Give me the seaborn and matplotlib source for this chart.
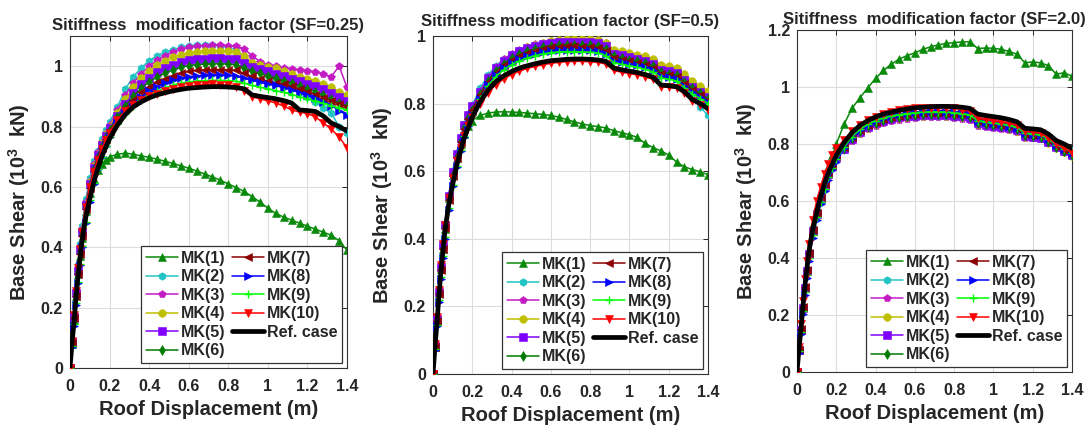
import matplotlib
matplotlib.use("Agg")
import matplotlib.pyplot as plt
import seaborn as sns

# ---------------------------------------------------------------------------
# Pushover data: roof displacement (m) vs base shear (10^3 kN)
# ---------------------------------------------------------------------------
DISP = [0, 0.01, 0.02, 0.03, 0.04, 0.05, 0.06, 0.08, 0.10, 0.12, 0.14, 0.16, 0.18, 0.20,
        0.24, 0.28, 0.32, 0.36, 0.40, 0.44, 0.48, 0.52, 0.56, 0.60,
        0.64, 0.68, 0.72, 0.76, 0.80, 0.84, 0.88, 0.92, 0.96, 1.00,
        1.04, 1.08, 1.12, 1.16, 1.20, 1.24, 1.28, 1.32, 1.36, 1.40]

REF_CASE = [0, 0.08, 0.15, 0.23, 0.30, 0.36, 0.42, 0.50, 0.56, 0.615, 0.66, 0.70, 0.73, 0.76,
            0.805, 0.84, 0.865, 0.882, 0.895, 0.905, 0.912, 0.918, 0.923, 0.927,
            0.929, 0.931, 0.932, 0.932, 0.931, 0.929, 0.925, 0.905, 0.900, 0.896,
            0.892, 0.886, 0.878, 0.855, 0.853, 0.850, 0.835, 0.812, 0.800, 0.785]

# SF = 0.25
SF025_MK1 = [0, 0.08, 0.16, 0.24, 0.31, 0.37, 0.43, 0.52, 0.58, 0.625, 0.655, 0.675, 0.69, 0.70,
             0.708, 0.712, 0.708, 0.703, 0.698, 0.692, 0.685, 0.678, 0.670, 0.662,
             0.653, 0.643, 0.633, 0.622, 0.610, 0.598, 0.585, 0.568, 0.550, 0.530,
             0.512, 0.500, 0.490, 0.480, 0.470, 0.460, 0.450, 0.440, 0.422, 0.390]
SF025_MK2 = [0, 0.09, 0.18, 0.26, 0.34, 0.41, 0.47, 0.56, 0.63, 0.685, 0.72, 0.76, 0.79, 0.815,
             0.865, 0.925, 0.965, 0.995, 1.018, 1.035, 1.047, 1.055, 1.062, 1.067,
             1.069, 1.070, 1.069, 1.066, 1.062, 1.055, 1.030, 1.005, 0.985, 0.972,
             0.962, 0.950, 0.935, 0.915, 0.898, 0.882, 0.862, 0.845, 0.800, 0.780]
SF025_MK3 = [0, 0.088, 0.175, 0.255, 0.33, 0.40, 0.46, 0.55, 0.62, 0.675, 0.715, 0.75, 0.78, 0.805,
             0.855, 0.905, 0.945, 0.975, 1.000, 1.020, 1.035, 1.047, 1.056, 1.062,
             1.066, 1.068, 1.069, 1.069, 1.068, 1.066, 1.058, 1.035, 1.015, 1.005,
             1.000, 0.995, 0.990, 0.987, 0.983, 0.980, 0.975, 0.965, 1.000, 0.930]
SF025_MK4 = [0, 0.087, 0.172, 0.25, 0.325, 0.395, 0.455, 0.545, 0.615, 0.668, 0.71, 0.745, 0.775, 0.80,
             0.845, 0.89, 0.93, 0.96, 0.985, 1.003, 1.018, 1.03, 1.038, 1.044,
             1.048, 1.05, 1.051, 1.051, 1.05, 1.048, 1.035, 1.012, 1.003, 0.998,
             0.993, 0.985, 0.975, 0.965, 0.958, 0.95, 0.942, 0.932, 0.915, 0.905]
SF025_MK5 = [0, 0.086, 0.17, 0.248, 0.322, 0.39, 0.45, 0.54, 0.61, 0.662, 0.705, 0.74, 0.77, 0.795,
             0.835, 0.875, 0.91, 0.94, 0.962, 0.98, 0.994, 1.005, 1.013, 1.019,
             1.023, 1.025, 1.026, 1.026, 1.025, 1.023, 1.012, 0.998, 0.99, 0.983,
             0.975, 0.968, 0.958, 0.95, 0.942, 0.935, 0.925, 0.912, 0.898, 0.885]
SF025_MK6 = [0, 0.085, 0.168, 0.245, 0.318, 0.385, 0.445, 0.535, 0.605, 0.658, 0.70, 0.735, 0.765, 0.79,
             0.83, 0.868, 0.9, 0.927, 0.948, 0.964, 0.977, 0.988, 0.996, 1.002,
             1.005, 1.007, 1.008, 1.008, 1.007, 1.005, 0.995, 0.984, 0.976, 0.968,
             0.96, 0.952, 0.943, 0.934, 0.925, 0.915, 0.903, 0.89, 0.879, 0.868]
SF025_MK7 = [0, 0.083, 0.165, 0.24, 0.312, 0.378, 0.438, 0.528, 0.598, 0.652, 0.695, 0.73, 0.76, 0.785,
             0.822, 0.857, 0.888, 0.913, 0.932, 0.947, 0.959, 0.969, 0.977, 0.983,
             0.986, 0.988, 0.989, 0.989, 0.988, 0.986, 0.977, 0.966, 0.958, 0.951,
             0.945, 0.94, 0.934, 0.925, 0.916, 0.906, 0.896, 0.886, 0.876, 0.866]
SF025_MK8 = [0, 0.07, 0.14, 0.21, 0.28, 0.34, 0.40, 0.48, 0.55, 0.61, 0.66, 0.70, 0.735, 0.765,
             0.812, 0.848, 0.876, 0.898, 0.917, 0.932, 0.944, 0.953, 0.96, 0.965,
             0.968, 0.97, 0.971, 0.971, 0.97, 0.967, 0.96, 0.953, 0.947, 0.942,
             0.936, 0.929, 0.921, 0.912, 0.903, 0.893, 0.882, 0.869, 0.853, 0.838]
SF025_MK9 = [0, 0.072, 0.145, 0.215, 0.285, 0.345, 0.405, 0.485, 0.555, 0.612, 0.66, 0.70, 0.735, 0.765,
             0.81, 0.843, 0.868, 0.888, 0.904, 0.917, 0.928, 0.937, 0.944, 0.948,
             0.951, 0.952, 0.953, 0.953, 0.952, 0.95, 0.944, 0.936, 0.93, 0.925,
             0.919, 0.913, 0.906, 0.899, 0.891, 0.884, 0.877, 0.869, 0.862, 0.855]
SF025_MK10 = [0, 0.09, 0.175, 0.255, 0.33, 0.395, 0.45, 0.535, 0.60, 0.65, 0.69, 0.725, 0.755, 0.78,
              0.822, 0.852, 0.873, 0.888, 0.9, 0.909, 0.917, 0.924, 0.93, 0.934,
              0.937, 0.939, 0.94, 0.939, 0.936, 0.93, 0.918, 0.898, 0.892, 0.885,
              0.878, 0.868, 0.855, 0.848, 0.843, 0.832, 0.812, 0.792, 0.765, 0.73]

# SF = 0.5
SF05_MK1 = [0, 0.08, 0.16, 0.24, 0.31, 0.37, 0.43, 0.52, 0.59, 0.64, 0.68, 0.71, 0.735, 0.75,
            0.765, 0.772, 0.775, 0.776, 0.775, 0.774, 0.772, 0.770, 0.768, 0.765,
            0.760, 0.753, 0.746, 0.740, 0.735, 0.732, 0.728, 0.720, 0.714, 0.708,
            0.700, 0.682, 0.670, 0.660, 0.648, 0.627, 0.613, 0.605, 0.598, 0.590]
SF05_MK2 = [0, 0.085, 0.165, 0.245, 0.32, 0.385, 0.445, 0.53, 0.60, 0.655, 0.70, 0.74, 0.77, 0.795,
            0.845, 0.885, 0.912, 0.932, 0.946, 0.956, 0.964, 0.97, 0.975, 0.978,
            0.98, 0.981, 0.981, 0.98, 0.978, 0.975, 0.965, 0.945, 0.94, 0.936,
            0.93, 0.922, 0.912, 0.895, 0.89, 0.885, 0.862, 0.83, 0.79, 0.765]
SF05_MK3 = [0, 0.084, 0.163, 0.242, 0.316, 0.38, 0.44, 0.525, 0.595, 0.65, 0.695, 0.735, 0.765, 0.79,
            0.838, 0.878, 0.908, 0.931, 0.948, 0.96, 0.968, 0.975, 0.98, 0.984,
            0.987, 0.989, 0.99, 0.99, 0.989, 0.987, 0.978, 0.955, 0.95, 0.946,
            0.94, 0.935, 0.928, 0.91, 0.906, 0.90, 0.88, 0.86, 0.845, 0.83]
SF05_MK4 = [0, 0.083, 0.161, 0.24, 0.313, 0.377, 0.437, 0.522, 0.592, 0.647, 0.692, 0.73, 0.76, 0.785,
            0.83, 0.872, 0.903, 0.926, 0.943, 0.956, 0.966, 0.974, 0.98, 0.985,
            0.988, 0.99, 0.991, 0.991, 0.99, 0.988, 0.98, 0.96, 0.955, 0.95,
            0.945, 0.94, 0.933, 0.915, 0.91, 0.905, 0.887, 0.868, 0.852, 0.838]
SF05_MK5 = [0, 0.084, 0.164, 0.243, 0.318, 0.382, 0.442, 0.527, 0.597, 0.652, 0.697, 0.737, 0.767, 0.792,
            0.835, 0.875, 0.905, 0.927, 0.943, 0.955, 0.964, 0.971, 0.976, 0.98,
            0.982, 0.983, 0.983, 0.982, 0.981, 0.979, 0.97, 0.948, 0.943, 0.938,
            0.932, 0.926, 0.918, 0.90, 0.895, 0.89, 0.87, 0.85, 0.835, 0.82]
SF05_MK6 = [0, 0.082, 0.16, 0.238, 0.31, 0.374, 0.434, 0.518, 0.588, 0.643, 0.688, 0.727, 0.757, 0.782,
            0.828, 0.868, 0.897, 0.918, 0.934, 0.946, 0.955, 0.962, 0.967, 0.971,
            0.973, 0.974, 0.974, 0.973, 0.972, 0.97, 0.962, 0.94, 0.935, 0.93,
            0.925, 0.919, 0.911, 0.894, 0.889, 0.884, 0.864, 0.845, 0.83, 0.815]
SF05_MK7 = [0, 0.081, 0.158, 0.236, 0.307, 0.371, 0.431, 0.515, 0.585, 0.64, 0.685, 0.724, 0.754, 0.78,
            0.825, 0.864, 0.892, 0.913, 0.929, 0.941, 0.95, 0.957, 0.962, 0.966,
            0.968, 0.969, 0.969, 0.968, 0.967, 0.965, 0.957, 0.935, 0.93, 0.925,
            0.92, 0.914, 0.906, 0.888, 0.884, 0.879, 0.859, 0.84, 0.825, 0.81]
SF05_MK8 = [0, 0.072, 0.142, 0.212, 0.28, 0.342, 0.40, 0.484, 0.555, 0.612, 0.66, 0.70, 0.735, 0.765,
            0.815, 0.855, 0.884, 0.905, 0.92, 0.932, 0.941, 0.948, 0.953, 0.957,
            0.959, 0.96, 0.96, 0.959, 0.958, 0.956, 0.948, 0.927, 0.922, 0.918,
            0.913, 0.907, 0.90, 0.882, 0.878, 0.873, 0.853, 0.835, 0.82, 0.805]
SF05_MK9 = [0, 0.075, 0.146, 0.218, 0.286, 0.348, 0.406, 0.49, 0.56, 0.616, 0.663, 0.703, 0.737, 0.767,
            0.813, 0.852, 0.88, 0.90, 0.915, 0.926, 0.935, 0.942, 0.947, 0.951,
            0.953, 0.954, 0.954, 0.953, 0.952, 0.95, 0.942, 0.921, 0.916, 0.912,
            0.907, 0.901, 0.894, 0.876, 0.872, 0.867, 0.847, 0.829, 0.815, 0.80]
SF05_MK10 = [0, 0.088, 0.17, 0.25, 0.322, 0.385, 0.44, 0.52, 0.58, 0.63, 0.67, 0.705, 0.735, 0.76,
             0.798, 0.832, 0.856, 0.873, 0.886, 0.896, 0.904, 0.91, 0.915, 0.919,
             0.922, 0.924, 0.925, 0.925, 0.924, 0.922, 0.917, 0.898, 0.893, 0.889,
             0.885, 0.879, 0.872, 0.85, 0.848, 0.845, 0.83, 0.808, 0.797, 0.78]

# SF = 2.0
SF20_MK1 = [0, 0.08, 0.155, 0.235, 0.305, 0.37, 0.43, 0.52, 0.58, 0.635, 0.68, 0.72, 0.76, 0.80,
            0.87, 0.925, 0.962, 0.997, 1.03, 1.058, 1.08, 1.098, 1.11, 1.12,
            1.132, 1.141, 1.148, 1.153, 1.156, 1.158, 1.159, 1.135, 1.137, 1.136,
            1.132, 1.125, 1.115, 1.085, 1.088, 1.085, 1.075, 1.045, 1.05, 1.038]
SF20_MK2 = [0, 0.076, 0.147, 0.222, 0.292, 0.352, 0.412, 0.492, 0.552, 0.607, 0.652, 0.692, 0.722, 0.752,
            0.78, 0.815, 0.838, 0.855, 0.867, 0.876, 0.883, 0.888, 0.892, 0.895,
            0.897, 0.898, 0.898, 0.897, 0.895, 0.892, 0.888, 0.868, 0.864, 0.861,
            0.858, 0.853, 0.847, 0.828, 0.826, 0.823, 0.81, 0.797, 0.787, 0.777]
SF20_MK3 = [0, 0.075, 0.145, 0.22, 0.29, 0.35, 0.41, 0.49, 0.55, 0.605, 0.65, 0.69, 0.72, 0.75,
            0.778, 0.812, 0.835, 0.852, 0.864, 0.873, 0.88, 0.885, 0.889, 0.892,
            0.894, 0.895, 0.895, 0.894, 0.892, 0.889, 0.884, 0.864, 0.86, 0.857,
            0.854, 0.849, 0.842, 0.822, 0.82, 0.817, 0.803, 0.785, 0.775, 0.765]
SF20_MK4 = [0, 0.076, 0.146, 0.221, 0.291, 0.351, 0.411, 0.491, 0.551, 0.606, 0.651, 0.691, 0.721, 0.751,
            0.782, 0.816, 0.84, 0.857, 0.87, 0.879, 0.886, 0.891, 0.895, 0.898,
            0.9, 0.901, 0.901, 0.9, 0.898, 0.895, 0.89, 0.87, 0.866, 0.862,
            0.858, 0.853, 0.846, 0.826, 0.823, 0.82, 0.805, 0.785, 0.772, 0.758]
SF20_MK5 = [0, 0.077, 0.148, 0.223, 0.293, 0.353, 0.413, 0.493, 0.553, 0.608, 0.653, 0.693, 0.723, 0.753,
            0.784, 0.818, 0.842, 0.859, 0.872, 0.881, 0.888, 0.893, 0.897, 0.90,
            0.902, 0.903, 0.903, 0.902, 0.90, 0.897, 0.892, 0.872, 0.868, 0.864,
            0.86, 0.855, 0.848, 0.828, 0.825, 0.822, 0.807, 0.788, 0.775, 0.762]
SF20_MK6 = [0, 0.078, 0.15, 0.225, 0.295, 0.356, 0.416, 0.496, 0.556, 0.611, 0.656, 0.696, 0.726, 0.756,
            0.786, 0.82, 0.845, 0.862, 0.875, 0.884, 0.891, 0.896, 0.90, 0.903,
            0.905, 0.906, 0.906, 0.905, 0.903, 0.90, 0.895, 0.875, 0.871, 0.867,
            0.863, 0.858, 0.851, 0.831, 0.828, 0.825, 0.81, 0.79, 0.776, 0.762]
SF20_MK7 = [0, 0.078, 0.151, 0.227, 0.297, 0.358, 0.418, 0.498, 0.558, 0.613, 0.658, 0.698, 0.728, 0.758,
            0.788, 0.823, 0.848, 0.865, 0.878, 0.887, 0.894, 0.90, 0.904, 0.907,
            0.909, 0.91, 0.91, 0.909, 0.907, 0.904, 0.899, 0.879, 0.875, 0.871,
            0.867, 0.862, 0.855, 0.835, 0.832, 0.829, 0.814, 0.794, 0.78, 0.766]
SF20_MK8 = [0, 0.068, 0.135, 0.205, 0.27, 0.33, 0.39, 0.47, 0.535, 0.59, 0.635, 0.675, 0.708, 0.738,
            0.785, 0.822, 0.848, 0.867, 0.881, 0.891, 0.899, 0.905, 0.909, 0.912,
            0.914, 0.915, 0.915, 0.914, 0.912, 0.909, 0.904, 0.882, 0.877, 0.873,
            0.869, 0.864, 0.857, 0.838, 0.834, 0.83, 0.816, 0.797, 0.784, 0.77]
SF20_MK9 = [0, 0.072, 0.142, 0.213, 0.28, 0.34, 0.40, 0.48, 0.543, 0.598, 0.643, 0.683, 0.716, 0.746,
            0.79, 0.826, 0.851, 0.869, 0.882, 0.891, 0.898, 0.903, 0.907, 0.91,
            0.912, 0.913, 0.913, 0.912, 0.91, 0.907, 0.902, 0.882, 0.878, 0.874,
            0.87, 0.865, 0.858, 0.838, 0.835, 0.832, 0.817, 0.797, 0.784, 0.77]
SF20_MK10 = [0, 0.088, 0.17, 0.25, 0.325, 0.39, 0.45, 0.535, 0.60, 0.65, 0.695, 0.73, 0.76, 0.785,
             0.815, 0.845, 0.868, 0.884, 0.896, 0.905, 0.912, 0.918, 0.922, 0.925,
             0.927, 0.928, 0.928, 0.927, 0.925, 0.921, 0.915, 0.89, 0.886, 0.882,
             0.878, 0.872, 0.865, 0.845, 0.842, 0.838, 0.822, 0.80, 0.785, 0.77]

SERIES_NAMES = ["MK(1)", "MK(2)", "MK(3)", "MK(4)", "MK(5)",
                "MK(6)", "MK(7)", "MK(8)", "MK(9)", "MK(10)"]
REF_NAME = "Ref. case"

PANEL_TITLES = ["Sitiffness  modification factor (SF=0.25)",
                "Sitiffness modification factor (SF=0.5)",
                "Sitiffness  modification factor (SF=2.0)"]
PANEL_SERIES = [
    [SF025_MK1, SF025_MK2, SF025_MK3, SF025_MK4, SF025_MK5,
     SF025_MK6, SF025_MK7, SF025_MK8, SF025_MK9, SF025_MK10],
    [SF05_MK1, SF05_MK2, SF05_MK3, SF05_MK4, SF05_MK5,
     SF05_MK6, SF05_MK7, SF05_MK8, SF05_MK9, SF05_MK10],
    [SF20_MK1, SF20_MK2, SF20_MK3, SF20_MK4, SF20_MK5,
     SF20_MK6, SF20_MK7, SF20_MK8, SF20_MK9, SF20_MK10],
]

X_TICKS = [0, 0.2, 0.4, 0.6, 0.8, 1.0, 1.2, 1.4]
X_TICK_LABELS = ["0", "0.2", "0.4", "0.6", "0.8", "1", "1.2", "1.4"]
Y_TICKS = [[0, 0.2, 0.4, 0.6, 0.8, 1.0],
           [0, 0.2, 0.4, 0.6, 0.8, 1.0],
           [0, 0.2, 0.4, 0.6, 0.8, 1.0, 1.2]]
Y_TICK_LABELS = [["0", "0.2", "0.4", "0.6", "0.8", "1"],
                 ["0", "0.2", "0.4", "0.6", "0.8", "1"],
                 ["0", "0.2", "0.4", "0.6", "0.8", "1", "1.2"]]
Y_LIMITS = [(0, 1.1), (0, 1.0), (0, 1.2)]

# ---------------------------------------------------------------------------
# Styling
# ---------------------------------------------------------------------------
sns.set_style("white")
plt.rcParams["font.family"] = ["Liberation Sans", "DejaVu Sans"]
plt.rcParams["font.weight"] = "bold"
plt.rcParams["mathtext.fontset"] = "custom"
plt.rcParams["mathtext.rm"] = "Liberation Sans:bold"
plt.rcParams["mathtext.bf"] = "Liberation Sans:bold"
plt.rcParams["mathtext.it"] = "Liberation Sans:bold:italic"

COLORS = ["#0a8a0a", "#22c4c4", "#c41ac4", "#bfbf00", "#8000ff",
          "#007a00", "#8b0000", "#0000ff", "#00ff00", "#ff0000"]
MARKERS = ["^", "h", "p", "o", "s", "d", "<", ">", "+", "v"]
TEXT_COLOR = "#262626"

AXES_RECTS = [
    [70 / 1091, 1 - 368 / 429, 277 / 1091, 332 / 429],
    [433 / 1091, 1 - 374 / 429, 275 / 1091, 338 / 429],
    [797 / 1091, 1 - 372 / 429, 275 / 1091, 342 / 429],
]
TITLE_PADS = [4, 7, 4]

fig = plt.figure(figsize=(10.91, 4.29), dpi=100)
fig.patch.set_facecolor("white")

for p in range(3):
    ax = fig.add_axes(AXES_RECTS[p])
    for i, values in enumerate(PANEL_SERIES[p]):
        mk = MARKERS[i]
        sns.lineplot(x=DISP, y=values, ax=ax, color=COLORS[i], marker=mk,
                     markersize=5.5 if mk != "+" else 6,
                     markeredgecolor=COLORS[i],
                     markeredgewidth=1.0 if mk == "+" else 0.4,
                     linewidth=1.1, label=SERIES_NAMES[i], sort=False,
                     estimator=None, legend=False, zorder=2 + i)
    sns.lineplot(x=DISP, y=REF_CASE, ax=ax, color="black", linewidth=3.4,
                 label=REF_NAME, sort=False, estimator=None, legend=False,
                 zorder=20)

    ax.set_xlim(0, 1.4)
    ax.set_ylim(*Y_LIMITS[p])
    ax.set_xticks(X_TICKS)
    ax.set_xticklabels(X_TICK_LABELS)
    ax.set_yticks(Y_TICKS[p])
    ax.set_yticklabels(Y_TICK_LABELS[p])
    ax.grid(True, color="#dcdcdc", linewidth=0.8)
    ax.set_axisbelow(True)
    ax.tick_params(axis="both", direction="in", length=3.5, width=0.7,
                   colors=TEXT_COLOR, labelsize=11.5, top=True, right=True)
    ax.tick_params(axis="x", pad=8)
    ax.tick_params(axis="y", pad=5)
    for lab in ax.get_xticklabels() + ax.get_yticklabels():
        lab.set_fontweight("bold")
    for s in ax.spines.values():
        s.set_color("#333333")
        s.set_linewidth(0.8)

    ax.set_xlabel("Roof Displacement (m)", fontsize=14.5, fontweight="bold",
                  color=TEXT_COLOR, labelpad=4)
    ax.set_ylabel("Base Shear (10$^3$  kN)", fontsize=14.5, fontweight="bold",
                  color=TEXT_COLOR, labelpad=6)
    ax.set_title(PANEL_TITLES[p], fontsize=12, fontweight="bold",
                 color=TEXT_COLOR, pad=TITLE_PADS[p])

    leg = ax.legend(ncol=2, loc="lower right", frameon=True, fancybox=False,
                    edgecolor="#333333", framealpha=1,
                    prop={"family": "Liberation Sans", "weight": "bold",
                          "size": 11.5},
                    handlelength=2.0, handletextpad=0.2, columnspacing=0.4,
                    labelspacing=0.22, borderpad=0.3, borderaxespad=0.3)
    leg.get_frame().set_linewidth(0.9)
    leg.set_zorder(50)

fig.savefig("out.png", dpi=100, facecolor="white")
